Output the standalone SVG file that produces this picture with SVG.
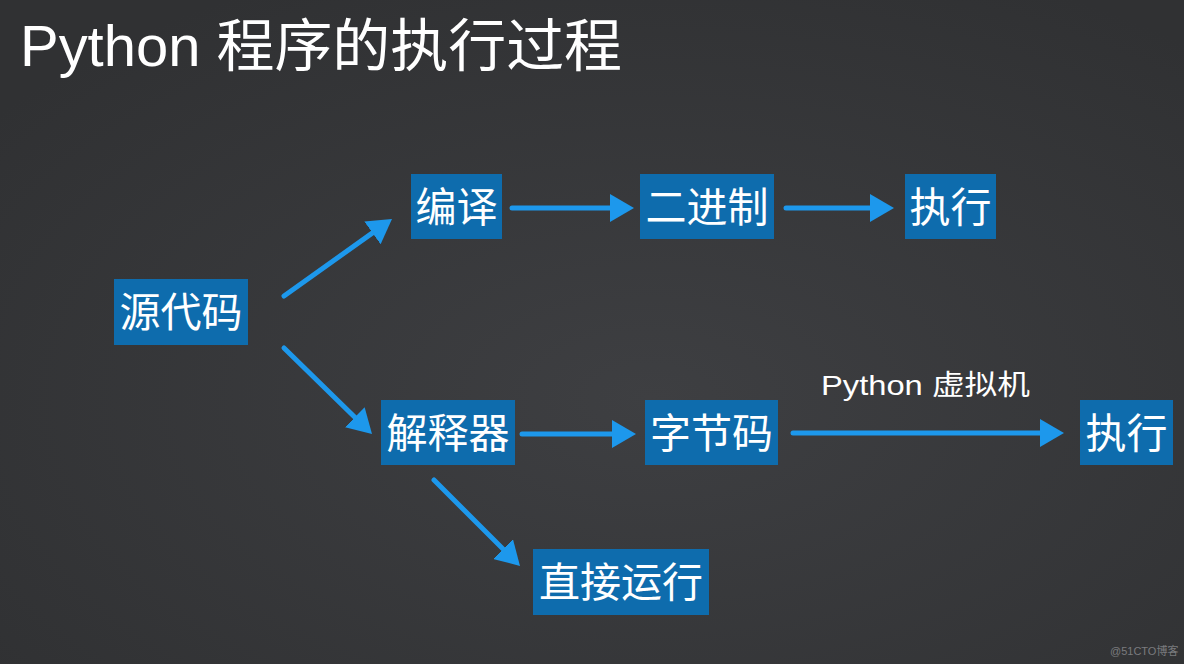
<svg xmlns="http://www.w3.org/2000/svg" width="1184" height="664" viewBox="0 0 1184 664">
  <style>
    .title{font-family:"Liberation Sans","Noto Sans CJK SC",sans-serif;font-size:57px;fill:#ffffff}
    .box{fill:#0e6cad}
    .lbl{font-family:"Noto Sans CJK SC",sans-serif;font-size:41px;fill:#ffffff;text-anchor:middle}
    .note{font-family:"Liberation Sans","Noto Sans CJK SC",sans-serif;font-size:28px;fill:#ffffff}
    .wm{font-family:"Liberation Sans","Noto Sans CJK SC",sans-serif;font-size:11px;fill:#7a7b7e}
    .arrow{fill:none;stroke:#1d98ec;stroke-width:5;stroke-linecap:round;marker-end:url(#head)}
  </style>
  <defs>
    <radialGradient id="bg" cx="0.55" cy="0.6" r="0.7">
      <stop offset="0" stop-color="#3e3f42"/>
      <stop offset="1" stop-color="#303133"/>
    </radialGradient>
    <marker id="head" viewBox="0 0 24 28" refX="10" refY="14" markerWidth="24" markerHeight="28" markerUnits="userSpaceOnUse" orient="auto">
      <path d="M0,0 L24,14 L0,28 Z" fill="#1d98ec"/>
    </marker>
  </defs>
  <rect width="1184" height="664" fill="url(#bg)"/>
  <text class="title" x="20" y="66" textLength="602" lengthAdjust="spacingAndGlyphs">Python 程序的执行过程</text>

  <g id="connectors">
    <path class="arrow" d="M284,296 L380.6,227.1"/>
    <path class="arrow" d="M284,348 L362,424.2"/>
    <path class="arrow" d="M512,208 L620,208"/>
    <path class="arrow" d="M786,208 L880,208"/>
    <path class="arrow" d="M522,434 L622,434"/>
    <path class="arrow" d="M793,433 L1050,433"/>
    <path class="arrow" d="M434,480 L510.1,556.1"/>
    <text class="note" x="821" y="395" textLength="209" lengthAdjust="spacingAndGlyphs">Python 虚拟机</text>
  </g>

  <g id="source">
    <rect class="box" x="114" y="279" width="134" height="66"/>
    <text class="lbl" x="181" y="327">源代码</text>
  </g>
  <g id="compile">
    <rect class="box" x="411" y="174" width="91" height="65"/>
    <text class="lbl" x="456.5" y="222">编译</text>
  </g>
  <g id="binary">
    <rect class="box" x="640" y="174" width="134" height="65"/>
    <text class="lbl" x="707" y="222">二进制</text>
  </g>
  <g id="exec1">
    <rect class="box" x="905" y="174" width="91" height="65"/>
    <text class="lbl" x="950.5" y="222">执行</text>
  </g>
  <g id="interpreter">
    <rect class="box" x="381" y="400" width="134" height="65"/>
    <text class="lbl" x="448" y="448">解释器</text>
  </g>
  <g id="bytecode">
    <rect class="box" x="645" y="400" width="133" height="65"/>
    <text class="lbl" x="711.5" y="448">字节码</text>
  </g>
  <g id="exec2">
    <rect class="box" x="1080" y="400" width="93" height="65"/>
    <text class="lbl" x="1126.5" y="448">执行</text>
  </g>
  <g id="direct">
    <rect class="box" x="533" y="549" width="176" height="66"/>
    <text class="lbl" x="621" y="597">直接运行</text>
  </g>

  <text class="wm" x="1110" y="655">@51CTO博客</text>
</svg>
